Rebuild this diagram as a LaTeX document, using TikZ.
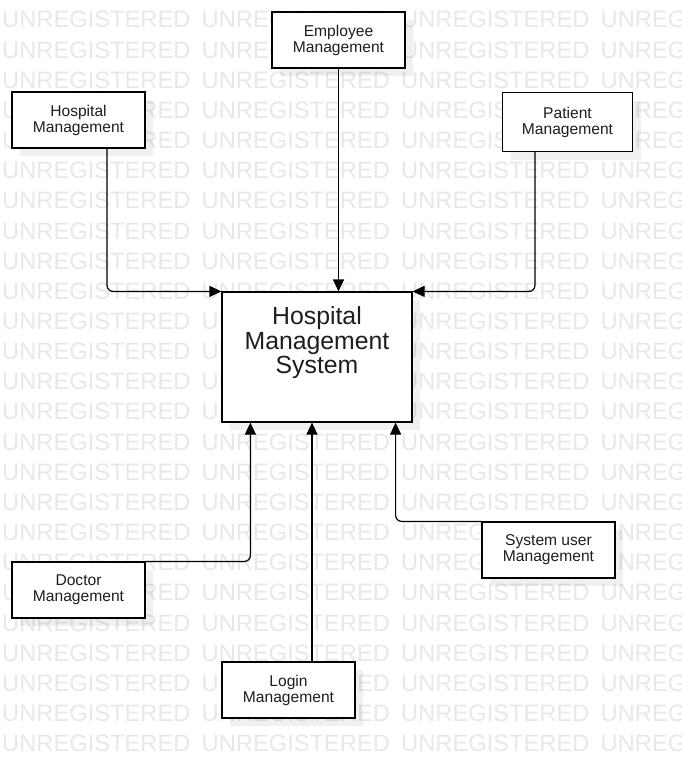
\documentclass[tikz,border=0pt]{standalone}
\usepackage{fontspec}
\setmainfont{Liberation Sans}
\usetikzlibrary{arrows.meta,calc,shadows}
\definecolor{wm}{RGB}{232,232,232}
\definecolor{txt}{RGB}{30,30,30}
\begin{document}
\begin{tikzpicture}[x=1pt,y=-1pt,
  box/.style={draw=black, line width=1.2pt, fill=white, minimum width=133pt, minimum height=56pt,
    inner sep=0pt, align=center, font=\fontsize{15.6}{16}\selectfont, text=txt,
    drop shadow={shadow xshift=8pt, shadow yshift=-8pt, fill=black, opacity=0.06}},
  conn/.style={draw=black, line width=1.2pt, -{Triangle[length=12pt,width=11pt]}, rounded corners=6pt},
  wmtext/.style={anchor=base west, inner sep=0pt, text=wm, font=\fontsize{23.7}{24}\selectfont},
]
\useasboundingbox (0,0) rectangle (682,768);
\fill[white] (0,0) rectangle (682,768);
\begin{scope}
\clip (0,0) rectangle (682,768);
\foreach \k in {0,...,24} {
  \foreach \j in {0,...,3} {
    \node[wmtext] (wm\k-\j) at ({2+199.5*\j}, {28+30.15*\k}) {UNREGISTERED};
  }
}
\end{scope}

\node[box] (emp) at (338.5,40) {Employee\\Management};
\node[box] (hosp) at (78.5,120) {Hospital\\Management};
\node[box, minimum width=130pt, minimum height=59pt] (pat) at (567.5,122) {Patient\\Management};
\node[box, minimum width=190pt, minimum height=130pt] (hms) at (317,357) {};
\node[anchor=north, inner sep=0pt, align=center, font=\fontsize{24.8}{24.5}\selectfont, text=txt] (hmst) at ([yshift=-15pt]hms.north) {Hospital\\Management\\System};
\node[box] (doc) at (78.5,590) {Doctor\\Management};
\node[box] (login) at (288.5,690) {Login\\Management};
\node[box] (sysu) at (548.5,550) {System user\\Management};

\draw[conn] ([xshift=28.5pt]hosp.south) |- (hms.north west);
\draw[conn] (emp.south) -- (emp.south |- hms.north);
\draw[conn] ([xshift=-32.5pt]pat.south) |- (hms.north east);
\draw[conn] (doc.north east) -| ([xshift=29pt]hms.south west);
\draw[conn] ([xshift=23.5pt]login.north) -- ([xshift=23.5pt]login.north |- hms.south);
\draw[conn] (sysu.north west) -| ([xshift=-17pt]hms.south east);
\end{tikzpicture}
\end{document}
